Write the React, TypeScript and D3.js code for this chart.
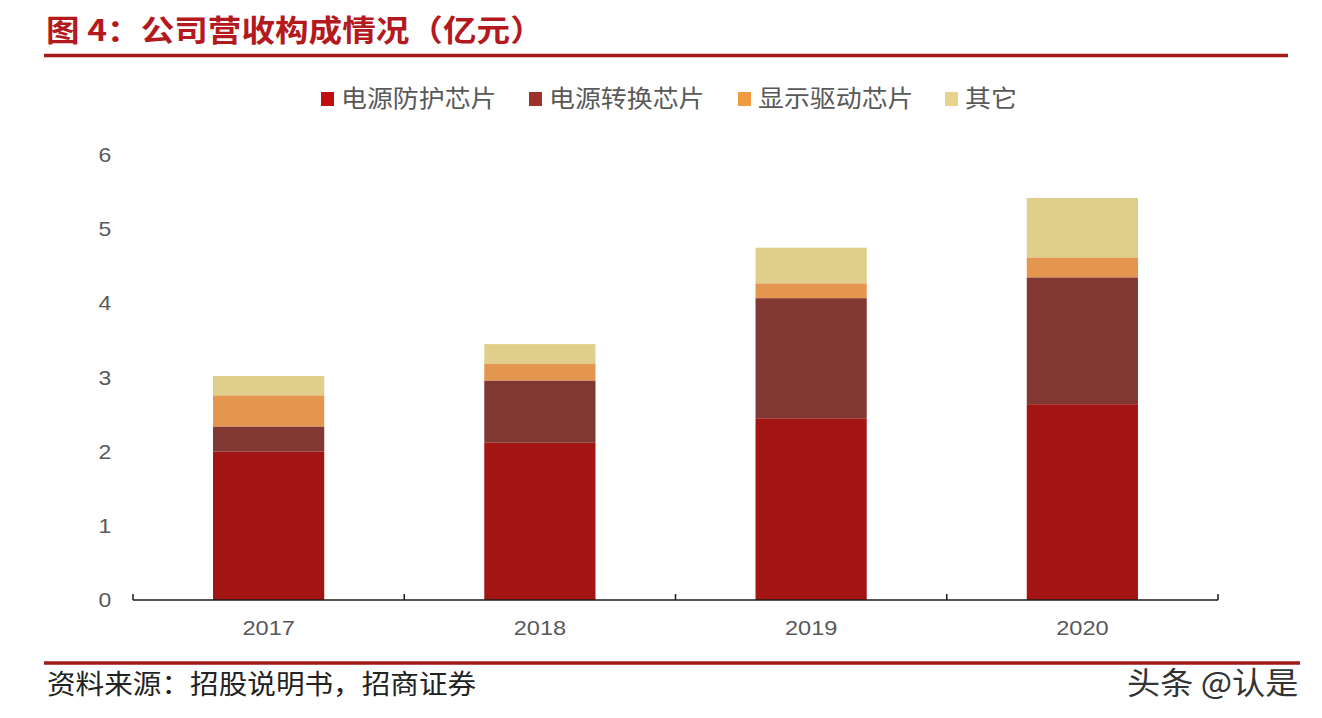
import React, { useEffect, useRef } from "react";
import * as d3 from "d3";

// 公司营收构成（亿元）
const years = ["2017", "2018", "2019", "2020"];
const seriesNames = ["电源防护芯片", "电源转换芯片", "显示驱动芯片", "其它"];
const protection = [2.0, 2.12, 2.45, 2.64];
const conversion = [0.34, 0.84, 1.62, 1.71];
const display = [0.42, 0.23, 0.2, 0.27];
const others = [0.26, 0.26, 0.48, 0.8];
const yTicks = [0, 1, 2, 3, 4, 5, 6];

const barColors = ["#A21512", "#813833", "#E4964F", "#DFCF8B"];
const legendColors = ["#C00F0F", "#A0302A", "#F09A42", "#E9D28C"];

const FONT = '"Liberation Sans", "Noto Sans CJK SC", sans-serif';
const CJK = '"Noto Sans CJK SC", "Liberation Sans", sans-serif';

export default function App() {
  const svgRef = useRef<SVGSVGElement>(null);

  useEffect(() => {
    const width = 1322;
    const height = 718;
    const svg = d3.select(svgRef.current).attr("width", width).attr("height", height);
    svg.selectAll("*").remove();

    svg.append("rect").attr("width", width).attr("height", height).attr("fill", "#fff");

    // the source picture is a bit stretched sideways, so text gets an x-scale
    const label = (
      px: number,
      py: number,
      sx: number,
      txt: string,
      size: number,
      family: string,
      fill: string,
      anchor = "start",
    ) =>
      svg
        .append("text")
        .attr("transform", `translate(${px},${py}) scale(${sx},1)`)
        .attr("dy", "0.35em")
        .attr("text-anchor", anchor)
        .style("font-family", family)
        .style("font-size", `${size}px`)
        .attr("fill", fill)
        .text(txt);

    const rows = years.map((year, i) => ({
      year,
      [seriesNames[0]]: protection[i],
      [seriesNames[1]]: conversion[i],
      [seriesNames[2]]: display[i],
      [seriesNames[3]]: others[i],
    })) as Array<Record<string, any>>;

    const x = d3.scaleBand<string>().domain(years).range([133, 1218]).padding(0);
    const y = d3.scaleLinear().domain([0, 6]).range([600, 155]);
    const barW = x.bandwidth() * 0.41;

    // Title + rule
    label(46, 30, 1.12, "图 4：公司营收构成情况（亿元）", 30, CJK, "#B3191D").style(
      "font-weight",
      "bold",
    );
    svg
      .append("line")
      .attr("x1", 44)
      .attr("x2", 1288)
      .attr("y1", 55.5)
      .attr("y2", 55.5)
      .attr("stroke", "#A31A1A")
      .attr("stroke-width", 3.5);

    // Legend
    const legendX = [321, 529, 738, 945];
    seriesNames.forEach((name, i) => {
      svg
        .append("rect")
        .attr("x", legendX[i])
        .attr("y", 92)
        .attr("width", 13)
        .attr("height", 14)
        .attr("fill", legendColors[i]);
      label(legendX[i] + 20, 99, 1.08, name, 24, CJK, "#595959");
    });

    // Y tick labels
    yTicks.forEach((t) => label(105, y(t), 1.15, String(t), 20, FONT, "#595959", "middle"));

    // Stacked bars
    const stack = d3.stack<Record<string, any>>().keys(seriesNames);
    const layers = stack(rows);
    layers.forEach((layer, li) => {
      svg
        .append("g")
        .selectAll("rect")
        .data(layer)
        .join("rect")
        .attr("x", (d) => x(d.data.year)! + (x.bandwidth() - barW) / 2)
        .attr("y", (d) => y(d[1]))
        .attr("width", barW)
        .attr("height", (d) => y(d[0]) - y(d[1]))
        .attr("fill", barColors[li]);
    });

    // X axis: baseline with upward ticks at band edges
    const edges = [...years.map((yr) => x(yr)!), x.range()[1]];
    const axis = svg.append("g");
    axis
      .append("line")
      .attr("x1", x.range()[0])
      .attr("x2", x.range()[1])
      .attr("y1", y(0))
      .attr("y2", y(0))
      .attr("stroke", "#1a1a1a")
      .attr("stroke-width", 1.5);
    axis
      .selectAll("line.tick")
      .data(edges)
      .join("line")
      .attr("class", "tick")
      .attr("x1", (d) => d)
      .attr("x2", (d) => d)
      .attr("y1", y(0))
      .attr("y2", y(0) - 6)
      .attr("stroke", "#1a1a1a")
      .attr("stroke-width", 1.5);
    years.forEach((yr) =>
      label(x(yr)! + x.bandwidth() / 2, 628, 1.18, yr, 20, FONT, "#595959", "middle"),
    );

    // Footer rule + source
    svg
      .append("line")
      .attr("x1", 44)
      .attr("x2", 1300)
      .attr("y1", 663)
      .attr("y2", 663)
      .attr("stroke", "#A31A1A")
      .attr("stroke-width", 3.5);
    label(47, 685, 1.06, "资料来源：招股说明书，招商证券", 27, CJK, "#222");

    // Watermark
    label(1127, 683, 1.07, "头条 @认是", 31, CJK, "#333")
      .attr("stroke", "#fff")
      .attr("stroke-width", 1)
      .attr("paint-order", "stroke");
  }, []);

  return <svg ref={svgRef} style={{ position: "absolute", left: 0, top: 0, display: "block" }} />;
}
